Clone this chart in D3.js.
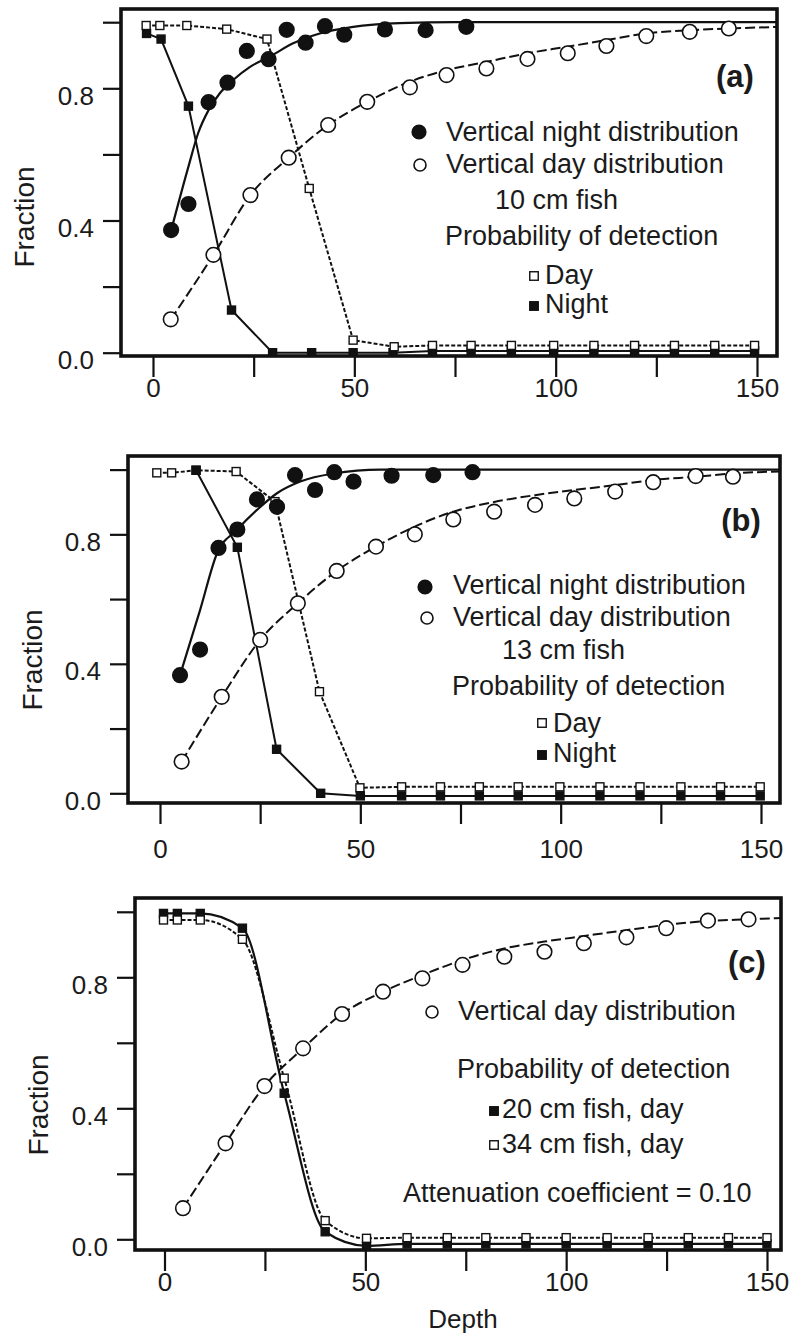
<!DOCTYPE html>
<html lang="en">
<head>
<meta charset="utf-8">
<title>Fraction vs depth, three panels</title>
<script src="https://d3js.org/d3.v7.min.js"></script>
<style>
  body { margin: 0; background: #fff; }
  text { font-family: "Liberation Sans", Arial, sans-serif; fill: #1b1b1b; }
</style>
</head>
<body>
<script>

// ---------- data ----------

// shared axis ticks
var xTicks = [0, 25, 50, 75, 100, 125, 150];
var xTickLabels = ["0", "", "50", "", "100", "", "150"];
var yTicks = [0, 0.2, 0.4, 0.6, 0.8, 1.0];
var yTickLabels = ["0.0", "", "0.4", "", "0.8", ""];

// panel (a) 10 cm fish
var aNightDepth = [4.5, 8.8, 13.8, 18.5, 23.3, 28.7, 33.2, 37.9, 42.7, 47.5, 57.6, 67.7, 77.8];
var aNightFrac  = [0.371, 0.45, 0.758, 0.817, 0.913, 0.888, 0.977, 0.938, 0.988, 0.962, 0.978, 0.976, 0.986];
var aNightFitDepth = [4.5, 8.8, 11.2, 13.8, 16.6, 19.9, 24.1, 29, 34.8, 41.4, 49.7, 61.3, 75, 160];
var aNightFit      = [0.37, 0.563, 0.664, 0.734, 0.785, 0.825, 0.865, 0.896, 0.936, 0.966, 0.986, 0.997, 1.0, 1.0];
var aDayDepth = [4.4, 15, 24.2, 33.7, 43.5, 53.2, 63.8, 72.9, 82.8, 93, 103, 112.6, 122.5, 133.3, 143];
var aDayFrac  = [0.101, 0.296, 0.477, 0.59, 0.689, 0.759, 0.803, 0.84, 0.86, 0.889, 0.906, 0.928, 0.958, 0.971, 0.981];
var aDayFitDepth = [4.4, 15, 24.2, 33.7, 43.5, 53.2, 63.8, 72.9, 82.8, 93, 103, 112.6, 122.5, 133.3, 143, 160];
var aDayFit      = [0.1, 0.296, 0.477, 0.59, 0.689, 0.759, 0.82, 0.855, 0.88, 0.906, 0.926, 0.946, 0.966, 0.976, 0.981, 0.987];
var aDetDayDepth = [-1.7, 1.7, 8.4, 18.3, 28.3, 38.8, 49.7, 59.9, 69.4, 79, 89, 99.5, 109.5, 119.6, 129.5, 139.5, 149.4];
var aDetDay      = [0.99, 0.99, 0.99, 0.979, 0.949, 0.497, 0.038, 0.018, 0.022, 0.022, 0.022, 0.022, 0.022, 0.022, 0.022, 0.022, 0.022];
var aDetNightDepth = [-1.6, 2, 8.8, 19.5, 29.7, 39.4, 49.7, 59.6, 69.4, 79, 89, 99.5, 109.5, 119.6, 129.5, 139.5, 149.4];
var aDetNight      = [0.966, 0.949, 0.746, 0.129, 0, 0, 0, 0, 0.005, 0.005, 0.005, 0.005, 0.005, 0.005, 0.005, 0.005, 0.005];

// panel (b) 13 cm fish
var bNightDepth = [5, 10, 14.6, 19.3, 24.2, 29.2, 33.7, 38.7, 43.5, 48.3, 57.8, 68.2, 78];
var bNightFrac  = [0.365, 0.444, 0.758, 0.815, 0.908, 0.885, 0.983, 0.937, 0.992, 0.963, 0.981, 0.983, 0.992];
var bNightFitDepth = [5, 10, 14.2, 19.3, 24.6, 29.2, 35, 43.3, 55, 160];
var bNightFit      = [0.365, 0.566, 0.74, 0.815, 0.88, 0.927, 0.963, 0.988, 1.0, 1.0];
var bDayDepth = [5.4, 15.4, 25, 34.4, 44.1, 53.9, 63.6, 73.2, 83.4, 93.6, 103.4, 113.6, 123.1, 133.7, 143];
var bDayFrac  = [0.098, 0.298, 0.474, 0.587, 0.687, 0.762, 0.8, 0.846, 0.87, 0.891, 0.911, 0.932, 0.961, 0.98, 0.978];
var bDayFitDepth = [5.4, 15.4, 25, 34.4, 44.1, 53.9, 63.6, 73.2, 83.4, 93.6, 103.4, 113.6, 123.1, 133.7, 143, 160];
var bDayFit      = [0.098, 0.298, 0.474, 0.587, 0.687, 0.762, 0.824, 0.87, 0.9, 0.921, 0.937, 0.952, 0.968, 0.978, 0.988, 0.996];
var bDetDayDepth = [-0.8, 2.9, 9, 19, 28.7, 39.8, 49.9, 60.3, 70, 79.7, 89.4, 99.8, 109.8, 119.8, 130, 139.9, 149.8];
var bDetDay      = [0.99, 0.99, 0.998, 0.994, 0.901, 0.314, 0.017, 0.02, 0.02, 0.02, 0.02, 0.02, 0.02, 0.02, 0.02, 0.02, 0.02];
var bDetNightDepth = [9, 19.3, 29.1, 40.1, 50, 60.3, 70, 79.7, 89.4, 99.8, 109.8, 119.8, 130, 139.9, 149.8];
var bDetNight      = [0.998, 0.76, 0.136, 0.0, -0.008, -0.008, -0.008, -0.008, -0.008, -0.008, -0.008, -0.008, -0.008, -0.008, -0.008];

// panel (c) attenuation 0.10
var cDayDepth = [4.6, 15.2, 24.9, 34.5, 44.2, 54.4, 64.2, 74.2, 84.6, 94.6, 104.4, 115, 124.9, 135.3, 145.4];
var cDayFrac  = [0.095, 0.293, 0.468, 0.583, 0.688, 0.756, 0.797, 0.838, 0.863, 0.878, 0.904, 0.922, 0.95, 0.973, 0.977];
var cDayFitDepth = [4.6, 15.2, 24.9, 34.5, 44.2, 54.4, 64.2, 74.2, 84.6, 94.6, 104.4, 115, 124.9, 135.3, 145.4, 160];
var cDayFit      = [0.095, 0.293, 0.468, 0.583, 0.688, 0.756, 0.807, 0.853, 0.888, 0.909, 0.926, 0.944, 0.96, 0.972, 0.977, 0.985];
var cDetDepth = [-0.25, 3.2, 8.9, 19.4, 29.8, 40, 50.3, 60.4, 70.4, 80, 90, 100, 110.2, 120.4, 130.4, 140.4, 150];
var cDet20 = [0.995, 0.995, 0.995, 0.95, 0.446, 0.023, -0.02, -0.014, -0.014, -0.014, -0.014, -0.014, -0.014, -0.014, -0.014, -0.014, -0.014];
var cDet34 = [0.975, 0.975, 0.975, 0.916, 0.492, 0.057, 0.003, 0.005, 0.005, 0.005, 0.005, 0.005, 0.005, 0.005, 0.005, 0.005, 0.005];

// ---------- layout ----------

var W = 791, H = 1339;

var panels = [
  { tag: "(a)", tagPos: [735, 87],
    xr: [153, 757], yr: [352.7, 22.2], frame: [121, 9, 777, 356],
    fracPos: [24, 217], xLabY: 397,
    lines: [
      { d: aNightFitDepth, v: aNightFit, dash: null, curve: d3.curveMonotoneX, w: 2.2 },
      { d: aDayFitDepth, v: aDayFit, dash: "10,4", curve: d3.curveMonotoneX, w: 2 },
      { d: aDetDayDepth, v: aDetDay, dash: "4,2", curve: d3.curveLinear, w: 2 },
      { d: aDetNightDepth, v: aDetNight, dash: null, curve: d3.curveLinear, w: 2 }
    ],
    marks: [
      { d: aDetNightDepth, v: aDetNight, shape: "sq", fill: true },
      { d: aDetDayDepth, v: aDetDay, shape: "sq", fill: false },
      { d: aDayDepth, v: aDayFrac, shape: "ci", fill: false },
      { d: aNightDepth, v: aNightFrac, shape: "ci", fill: true }
    ],
    legend: [
      { m: "ci", fill: true, mx: 419, my: 132, t: "Vertical night distribution", tx: 446, ty: 141 },
      { m: "ci", fill: false, small: true, mx: 420, my: 165, t: "Vertical day distribution", tx: 446, ty: 173 },
      { t: "10 cm fish", tx: 495, ty: 209 },
      { t: "Probability of detection", tx: 445, ty: 245 },
      { m: "sq", fill: false, mx: 534, my: 276, t: "Day", tx: 545, ty: 284 },
      { m: "sq", fill: true, mx: 534, my: 306, t: "Night", tx: 545, ty: 313 }
    ]
  },
  { tag: "(b)", tagPos: [741, 531],
    xr: [160, 761], yr: [793.3, 469.6], frame: [128, 456, 780, 803],
    fracPos: [32, 660], xLabY: 858,
    lines: [
      { d: bNightFitDepth, v: bNightFit, dash: null, curve: d3.curveMonotoneX, w: 2.2 },
      { d: bDayFitDepth, v: bDayFit, dash: "10,4", curve: d3.curveMonotoneX, w: 2 },
      { d: bDetDayDepth, v: bDetDay, dash: "4,2", curve: d3.curveLinear, w: 2 },
      { d: bDetNightDepth, v: bDetNight, dash: null, curve: d3.curveLinear, w: 2 }
    ],
    marks: [
      { d: bDetDayDepth, v: bDetDay, shape: "sq", fill: false },
      { d: bDetNightDepth, v: bDetNight, shape: "sq", fill: true },
      { d: bDayDepth, v: bDayFrac, shape: "ci", fill: false },
      { d: bNightDepth, v: bNightFrac, shape: "ci", fill: true }
    ],
    legend: [
      { m: "ci", fill: true, mx: 425, my: 587, t: "Vertical night distribution", tx: 453, ty: 594 },
      { m: "ci", fill: false, small: true, mx: 427, my: 618, t: "Vertical day distribution", tx: 453, ty: 626 },
      { t: "13 cm fish", tx: 502, ty: 659 },
      { t: "Probability of detection", tx: 452, ty: 695 },
      { m: "sq", fill: false, mx: 542, my: 723, t: "Day", tx: 553, ty: 732 },
      { m: "sq", fill: true, mx: 542, my: 755, t: "Night", tx: 553, ty: 762 }
    ]
  },
  { tag: "(c)", tagPos: [747, 973],
    xr: [164.5, 767], yr: [1239.3, 911.8], frame: [135, 898, 781, 1250],
    fracPos: [38, 1105], xLabY: 1291,
    lines: [
      { d: cDayFitDepth, v: cDayFit, dash: "10,4", curve: d3.curveMonotoneX, w: 2 },
      { d: cDetDepth, v: cDet34, dash: "4,2", curve: d3.curveMonotoneX, w: 2 },
      { d: cDetDepth, v: cDet20, dash: null, curve: d3.curveMonotoneX, w: 2.2 }
    ],
    marks: [
      { d: cDetDepth, v: cDet20, shape: "sq", fill: true },
      { d: cDetDepth, v: cDet34, shape: "sq", fill: false },
      { d: cDayDepth, v: cDayFrac, shape: "ci", fill: false }
    ],
    legend: [
      { m: "ci", fill: false, small: true, mx: 432, my: 1012, t: "Vertical day distribution", tx: 458, ty: 1020 },
      { t: "Probability of detection", tx: 457, ty: 1078 },
      { m: "sq", fill: true, mx: 494, my: 1111, t: "20 cm fish, day", tx: 502, ty: 1118 },
      { m: "sq", fill: false, mx: 494, my: 1145, t: "34 cm fish, day", tx: 502, ty: 1153 },
      { t: "Attenuation coefficient = 0.10", tx: 403, ty: 1202 }
    ]
  }
];

var svg = d3.select("body").append("svg")
  .attr("width", W)
  .attr("height", H);

svg.append("rect").attr("width", W).attr("height", H).attr("fill", "#fff");

// draw a marker (circle or square) into a selection
function drawMarks(g, pts, shape, fill, size) {
  if (shape === "ci") {
    g.selectAll(null).data(pts).enter().append("circle")
      .attr("cx", function (p) { return p[0]; })
      .attr("cy", function (p) { return p[1]; })
      .attr("r", size || 7.3)
      .attr("fill", fill ? "#111" : "#fff")
      .attr("stroke", "#111")
      .attr("stroke-width", 1.6);
  } else {
    var s = size || 8;
    g.selectAll(null).data(pts).enter().append("rect")
      .attr("x", function (p) { return p[0] - s / 2; })
      .attr("y", function (p) { return p[1] - s / 2; })
      .attr("width", s)
      .attr("height", s)
      .attr("fill", fill ? "#111" : "#fff")
      .attr("stroke", "#111")
      .attr("stroke-width", 1.4);
  }
}

panels.forEach(function (P, i) {

  var x = d3.scaleLinear().domain([0, 150]).range(P.xr);
  var y = d3.scaleLinear().domain([0, 1]).range(P.yr);
  var f = P.frame;
  var g = svg.append("g");

  // clip to the box
  var clipId = "clip" + i;
  svg.append("clipPath").attr("id", clipId)
    .append("rect")
    .attr("x", f[0]).attr("y", f[1])
    .attr("width", f[2] - f[0]).attr("height", f[3] - f[1]);

  // axes: ticks outside the frame
  var yAxis = d3.axisLeft(y)
    .tickValues(yTicks)
    .tickSize(18)
    .tickPadding(9)
    .tickFormat(function (d, k) { return yTickLabels[k]; });
  var ya = g.append("g")
    .attr("transform", "translate(" + f[0] + ",0)")
    .call(yAxis);
  ya.select(".domain").remove();
  ya.selectAll("line").attr("stroke", "#111").attr("stroke-width", 2.2);
  ya.selectAll("text")
    .attr("font-size", 26)
    .attr("dy", "0.95em")
    .attr("y", -9)
    .attr("fill", "#1b1b1b")
    .attr("font-family", "Liberation Sans, Arial, sans-serif");

  var xAxis = d3.axisBottom(x)
    .tickValues(xTicks)
    .tickSize(21)
    .tickFormat(function (d, k) { return xTickLabels[k]; });
  var xa = g.append("g")
    .attr("transform", "translate(0," + f[3] + ")")
    .call(xAxis);
  xa.select(".domain").remove();
  xa.selectAll("line").attr("stroke", "#111").attr("stroke-width", 2.2);
  xa.selectAll("text")
    .attr("font-size", 26)
    .attr("y", P.xLabY - f[3])
    .attr("dy", 0)
    .attr("fill", "#1b1b1b")
    .attr("font-family", "Liberation Sans, Arial, sans-serif");

  // plot content
  var plot = g.append("g").attr("clip-path", "url(#" + clipId + ")");

  P.lines.forEach(function (L) {
    var pts = L.d.map(function (d, k) { return [x(d), y(L.v[k])]; });
    plot.append("path")
      .attr("d", d3.line().curve(L.curve)(pts))
      .attr("fill", "none")
      .attr("stroke", "#111")
      .attr("stroke-width", L.w)
      .attr("stroke-dasharray", L.dash);
  });

  P.marks.forEach(function (M) {
    var pts = M.d.map(function (d, k) { return [x(d), y(M.v[k])]; });
    drawMarks(plot, pts, M.shape, M.fill);
  });

  // frame
  g.append("rect")
    .attr("x", f[0]).attr("y", f[1])
    .attr("width", f[2] - f[0]).attr("height", f[3] - f[1])
    .attr("fill", "none")
    .attr("stroke", "#111")
    .attr("stroke-width", 3.6);

  // legend
  P.legend.forEach(function (e) {
    if (e.m) {
      drawMarks(g, [[e.mx, e.my]], e.m, e.fill, e.m === "ci" ? (e.small ? 6 : 6.8) : 8.5);
    }
    g.append("text")
      .attr("x", e.tx).attr("y", e.ty)
      .attr("font-size", 27)
      .text(e.t);
  });

  // panel tag
  g.append("text")
    .attr("x", P.tagPos[0]).attr("y", P.tagPos[1])
    .attr("text-anchor", "middle")
    .attr("font-size", 31)
    .attr("font-weight", "bold")
    .attr("font-family", "Liberation Sans Narrow, Liberation Sans, Arial, sans-serif")
    .text(P.tag);

  // y title
  g.append("text")
    .attr("transform", "translate(" + P.fracPos[0] + "," + P.fracPos[1] + ") rotate(-90)")
    .attr("text-anchor", "middle")
    .attr("dy", "0.35em")
    .attr("font-size", 28)
    .text("Fraction");
});

// x title, bottom panel only
svg.append("text")
  .attr("x", 463).attr("y", 1328)
  .attr("text-anchor", "middle")
  .attr("font-size", 26)
  .text("Depth");

</script>
</body>
</html>
